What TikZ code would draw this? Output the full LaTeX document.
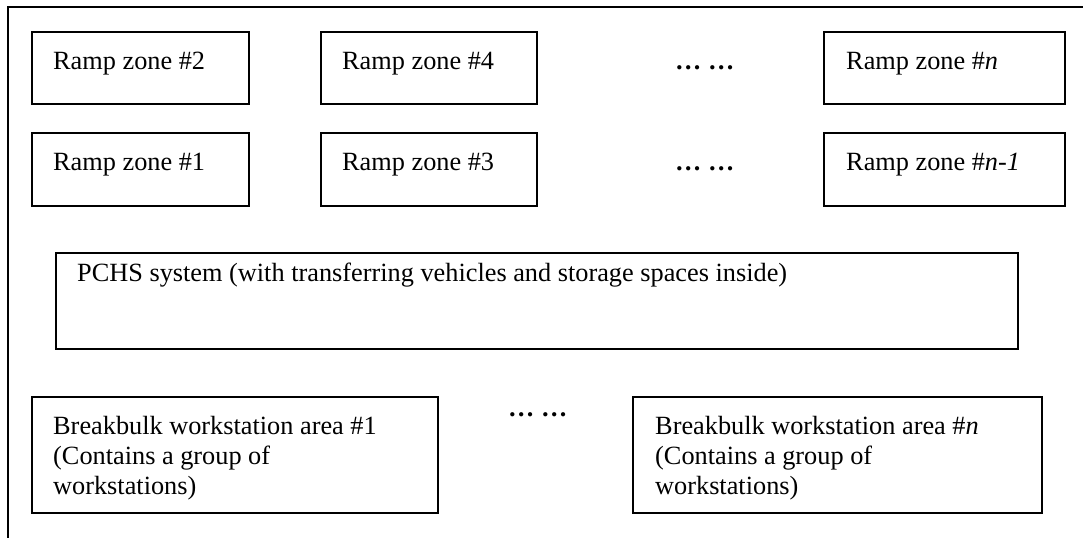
\documentclass[tikz,border=0pt]{standalone}
\usepackage{fontspec}
\setmainfont{Liberation Serif}
\usetikzlibrary{calc}
\begin{document}
\begin{tikzpicture}[x=1pt,y=-1pt,
  box/.style={draw, line width=1.8pt, rectangle, inner sep=0pt, outer sep=0pt, anchor=north west},
  lbl/.style={inner sep=0pt, anchor=base west, font=\fontsize{26.3}{30.2}\selectfont},
  dotsty/.style={lbl, font=\fontsize{26.3}{30.2}\selectfont\bfseries},
  frame/.style={line width=2pt}]
\useasboundingbox (0,0) rectangle (1083,538);
\draw[frame] (1083,6.5) -- (7.5,6.5) -- (7.5,538);
% ramp zones
\node[box, minimum width=217pt, minimum height=72pt] (r2) at (32,32) {};
\node[box, minimum width=216pt, minimum height=72pt] (r4) at (321,32) {};
\node[box, minimum width=241pt, minimum height=72pt] (rn) at (824,32) {};
\node[box, minimum width=217pt, minimum height=73pt] (r1) at (32,133) {};
\node[box, minimum width=216pt, minimum height=73pt] (r3) at (321,133) {};
\node[box, minimum width=241pt, minimum height=73pt] (rn1) at (824,133) {};
\node[lbl] (t2) at ($(r2.north west)+(21,37)$) {Ramp zone \#2};
\node[lbl] (t4) at ($(r4.north west)+(21,37)$) {Ramp zone \#4};
\node[lbl] (tn) at ($(rn.north west)+(22,37)$) {Ramp zone \#\textit{n}};
\node[lbl] (t1) at ($(r1.north west)+(21,37)$) {Ramp zone \#1};
\node[lbl] (t3) at ($(r3.north west)+(21,37)$) {Ramp zone \#3};
\node[lbl] (tn1) at ($(rn1.north west)+(22,37)$) {Ramp zone \#\textit{n-1}};
\node[dotsty] (d1) at (675,69) {… …};
\node[dotsty] (d2) at (675,170) {… …};
% PCHS
\node[box, minimum width=962pt, minimum height=96pt] (pchs) at (56,253) {};
\node[lbl] (tp) at ($(pchs.north west)+(21,28)$) {PCHS system (with transferring vehicles and storage spaces inside)};
% breakbulk
\node[box, minimum width=406pt, minimum height=116pt] (bb1) at (32,397) {};
\node[box, minimum width=409pt, minimum height=116pt] (bbn) at (633,397) {};
\node[lbl] (tb1) at ($(bb1.north west)+(21,37)$) {\begin{tabular}[t]{@{}l@{}}Breakbulk workstation area \#1\\(Contains a group of\\workstations)\end{tabular}};
\node[lbl] (tbn) at ($(bbn.north west)+(22,37)$) {\begin{tabular}[t]{@{}l@{}}Breakbulk workstation area \#\textit{n}\\(Contains a group of\\workstations)\end{tabular}};
\node[dotsty] (d3) at (508,416) {… …};
\end{tikzpicture}
\end{document}
